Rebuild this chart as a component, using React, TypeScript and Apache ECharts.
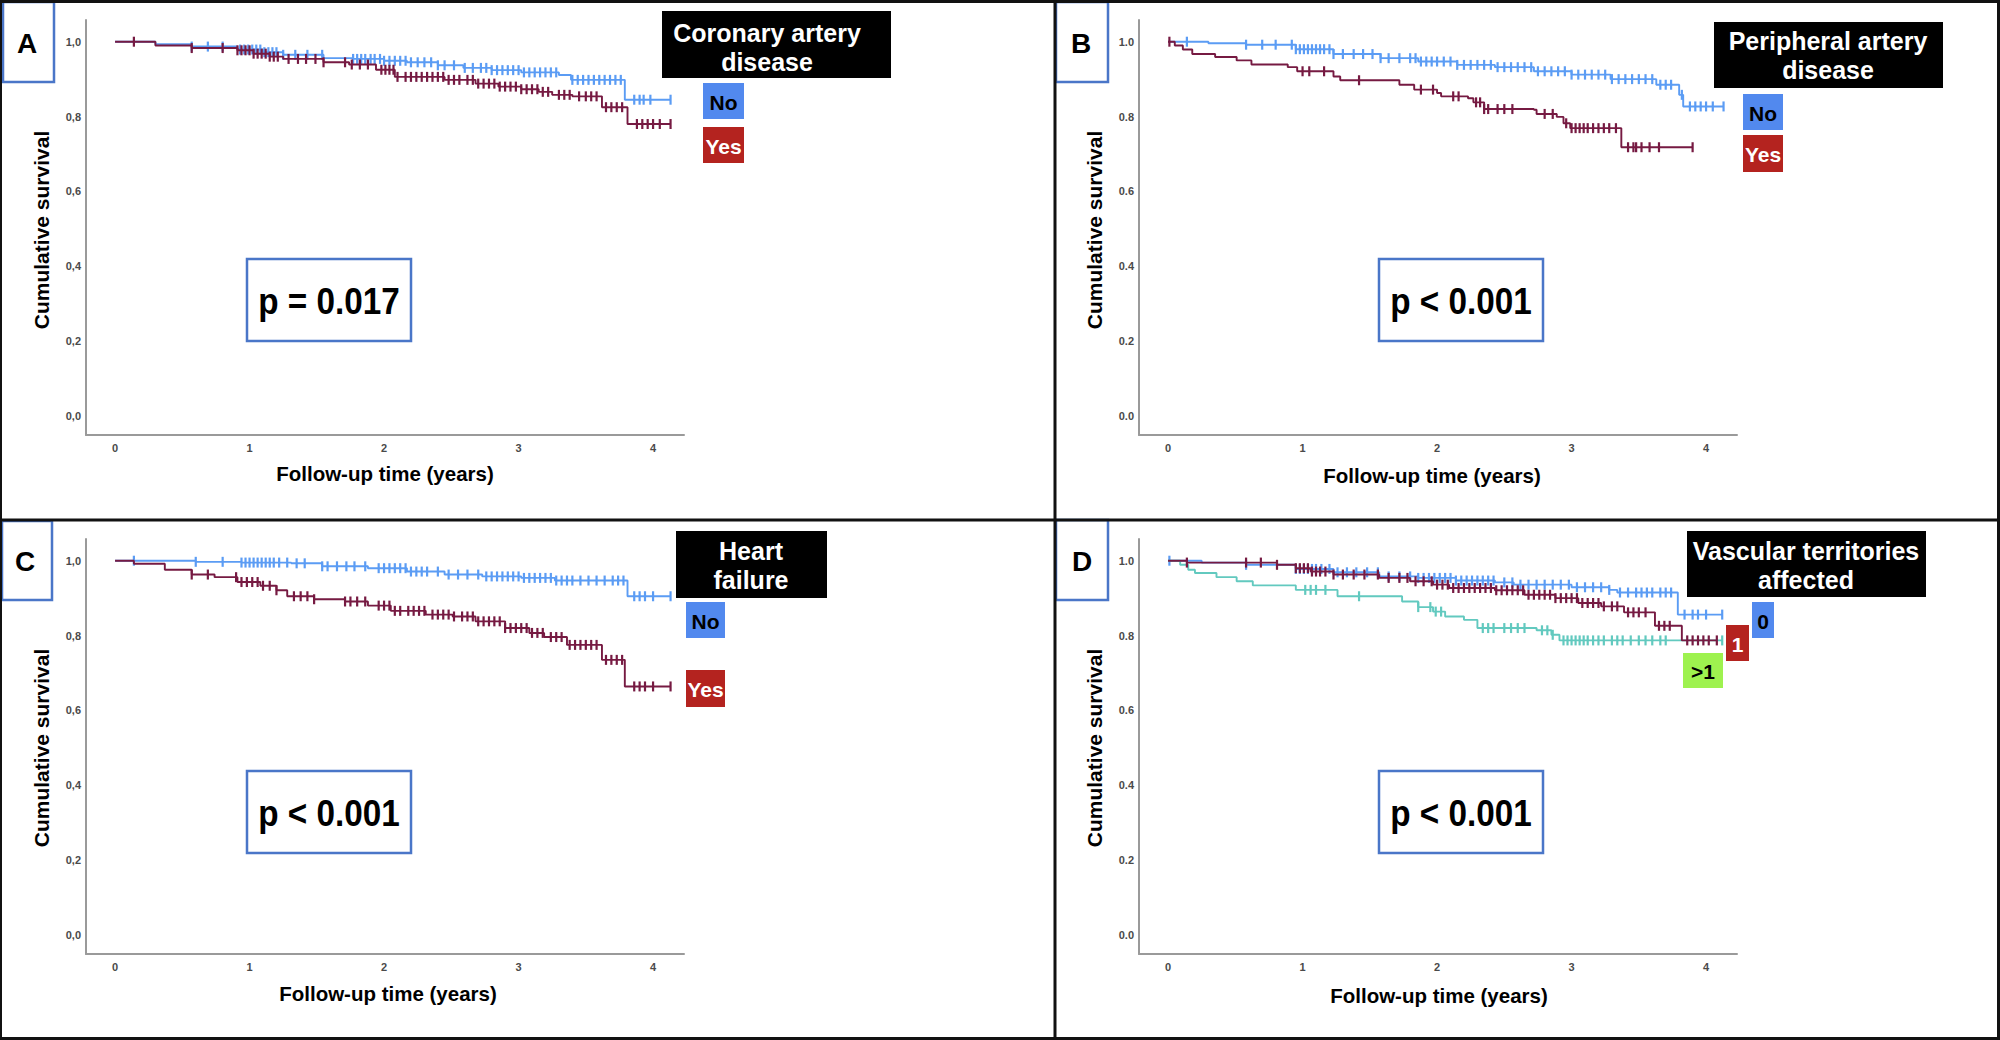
import React, { useEffect, useRef } from "react";
import * as echarts from "echarts";

// ---------- tick labels ----------
const xTicks = [0, 1, 2, 3, 4];
const yTicks = [0, 0.2, 0.4, 0.6, 0.8, 1.0];

// ---------- Panel A: Coronary artery disease ----------
const cadNoSteps = [[0,1],[0.3,0.993],[0.57,0.987],[0.91,0.979],[1.1,0.972],[1.25,0.965],[1.55,0.956],[1.77,0.954],[2.0,0.949],[2.17,0.945],[2.4,0.937],[2.59,0.93],[2.8,0.924],[3.02,0.918],[3.3,0.911],[3.39,0.898],[3.79,0.845],[4.13,0.845]];
const cadNoCensors = [0.57,0.69,0.8,0.93,0.96,0.99,1.02,1.05,1.08,1.11,1.14,1.17,1.2,1.25,1.34,1.43,1.54,1.77,1.8,1.83,1.86,1.9,1.93,1.97,2.0,2.04,2.08,2.12,2.16,2.2,2.25,2.3,2.35,2.4,2.45,2.52,2.6,2.66,2.72,2.76,2.8,2.84,2.88,2.92,2.96,3.0,3.04,3.08,3.12,3.16,3.2,3.24,3.28,3.4,3.44,3.48,3.52,3.56,3.6,3.64,3.68,3.72,3.76,3.86,3.9,3.93,3.98,4.13];
const cadYesSteps = [[0,1],[0.3,0.99],[0.57,0.983],[0.91,0.977],[1.03,0.968],[1.15,0.96],[1.25,0.954],[1.55,0.945],[1.74,0.939],[1.94,0.925],[2.08,0.906],[2.45,0.898],[2.68,0.888],[2.85,0.88],[3.02,0.873],[3.15,0.866],[3.25,0.858],[3.4,0.854],[3.62,0.825],[3.81,0.78],[4.13,0.78]];
const cadYesCensors = [0.14,0.57,0.8,0.91,0.94,0.97,1.0,1.03,1.06,1.09,1.12,1.15,1.18,1.21,1.29,1.36,1.42,1.49,1.55,1.71,1.76,1.82,1.88,1.98,2.01,2.04,2.07,2.1,2.16,2.2,2.24,2.28,2.32,2.36,2.4,2.44,2.48,2.52,2.56,2.62,2.66,2.7,2.74,2.78,2.82,2.86,2.9,2.94,2.98,3.02,3.06,3.1,3.14,3.18,3.22,3.3,3.34,3.38,3.45,3.5,3.54,3.58,3.65,3.69,3.73,3.77,3.88,3.92,3.96,4.0,4.05,4.13];

// ---------- Panel B: Peripheral artery disease ----------
const padNoSteps = [[0,1],[0.3,0.996],[0.58,0.992],[0.95,0.98],[1.23,0.967],[1.58,0.956],[1.86,0.947],[2.15,0.938],[2.43,0.932],[2.72,0.921],[3.0,0.912],[3.29,0.9],[3.63,0.885],[3.8,0.858],[3.83,0.827],[4.13,0.827]];
const padNoCensors = [0.14,0.58,0.7,0.8,0.92,0.95,0.98,1.01,1.04,1.07,1.1,1.13,1.16,1.2,1.23,1.3,1.38,1.45,1.52,1.58,1.64,1.72,1.8,1.84,1.88,1.92,1.96,2.0,2.05,2.1,2.15,2.2,2.25,2.3,2.35,2.4,2.45,2.5,2.55,2.6,2.65,2.7,2.75,2.8,2.85,2.9,2.95,3.0,3.05,3.1,3.15,3.2,3.25,3.3,3.35,3.4,3.45,3.5,3.55,3.6,3.66,3.7,3.74,3.82,3.88,3.92,3.96,4.0,4.05,4.13];
const padYesSteps = [[0,1],[0.05,0.99],[0.11,0.979],[0.18,0.967],[0.35,0.959],[0.51,0.95],[0.62,0.939],[0.89,0.932],[0.96,0.921],[1.23,0.907],[1.28,0.897],[1.72,0.885],[1.83,0.872],[2.0,0.863],[2.03,0.854],[2.23,0.849],[2.27,0.838],[2.35,0.82],[2.72,0.818],[2.74,0.807],[2.89,0.799],[2.94,0.782],[2.99,0.769],[3.37,0.718],[3.9,0.718]];
const padYesCensors = [0.01,1.0,1.05,1.16,1.42,1.88,1.97,2.12,2.16,2.29,2.32,2.35,2.38,2.45,2.5,2.56,2.8,2.86,2.96,3.0,3.03,3.06,3.09,3.12,3.16,3.2,3.24,3.28,3.33,3.42,3.46,3.48,3.52,3.58,3.65,3.9];

// ---------- Panel C: Heart failure ----------
const hfNoSteps = [[0,1],[0.6,0.997],[0.94,0.995],[1.31,0.993],[1.54,0.985],[1.88,0.98],[2.17,0.971],[2.45,0.963],[2.73,0.958],[3.02,0.954],[3.27,0.947],[3.81,0.905],[4.13,0.905]];
const hfNoCensors = [0.14,0.6,0.8,0.94,0.97,1.0,1.03,1.06,1.09,1.12,1.15,1.18,1.22,1.28,1.35,1.41,1.54,1.58,1.65,1.72,1.78,1.86,1.96,2.0,2.04,2.08,2.12,2.16,2.2,2.24,2.28,2.32,2.4,2.48,2.55,2.62,2.7,2.76,2.8,2.84,2.88,2.92,2.96,3.0,3.04,3.08,3.12,3.16,3.2,3.24,3.28,3.32,3.36,3.4,3.46,3.52,3.58,3.64,3.7,3.74,3.78,3.86,3.9,3.94,4.0,4.13];
const hfYesSteps = [[0,1],[0.14,0.992],[0.37,0.976],[0.57,0.963],[0.74,0.956],[0.91,0.943],[1.08,0.933],[1.2,0.921],[1.28,0.905],[1.48,0.897],[1.71,0.891],[1.88,0.88],[2.05,0.866],[2.31,0.856],[2.51,0.851],[2.68,0.838],[2.9,0.82],[3.08,0.807],[3.19,0.796],[3.36,0.775],[3.62,0.735],[3.79,0.664],[4.13,0.664]];
const hfYesCensors = [0.57,0.69,0.9,0.94,0.98,1.02,1.06,1.1,1.15,1.2,1.33,1.38,1.43,1.48,1.71,1.75,1.8,1.86,1.96,2.0,2.04,2.08,2.12,2.18,2.22,2.26,2.3,2.36,2.4,2.44,2.48,2.52,2.58,2.62,2.66,2.7,2.74,2.78,2.82,2.86,2.9,2.94,2.98,3.02,3.06,3.1,3.14,3.18,3.24,3.28,3.32,3.38,3.42,3.46,3.5,3.54,3.58,3.65,3.69,3.73,3.77,3.86,3.9,3.94,4.0,4.13];

// ---------- Panel D: Vascular territories affected ----------
const vt0Steps = [[0,1],[0.25,0.995],[0.58,0.989],[0.95,0.978],[1.23,0.969],[1.57,0.958],[1.86,0.954],[2.14,0.947],[2.43,0.942],[2.57,0.936],[3.0,0.929],[3.28,0.922],[3.34,0.915],[3.79,0.856],[4.12,0.856]];
const vt0Censors = [0.01,0.58,0.95,0.98,1.01,1.04,1.07,1.1,1.14,1.2,1.26,1.33,1.4,1.48,1.56,1.64,1.72,1.8,1.86,1.9,1.94,1.98,2.02,2.06,2.1,2.14,2.18,2.22,2.26,2.3,2.34,2.38,2.42,2.5,2.56,2.62,2.68,2.74,2.8,2.86,2.92,2.98,3.04,3.1,3.16,3.22,3.28,3.36,3.42,3.48,3.52,3.56,3.6,3.66,3.7,3.74,3.84,3.9,3.94,4.0,4.12];
const vt1Steps = [[0,1],[0.14,0.995],[0.81,0.989],[0.95,0.98],[1.06,0.971],[1.23,0.963],[1.57,0.954],[1.8,0.945],[1.97,0.936],[2.09,0.927],[2.43,0.921],[2.65,0.909],[2.88,0.9],[3.05,0.887],[3.22,0.878],[3.39,0.862],[3.62,0.826],[3.82,0.787],[4.08,0.787]];
const vt1Censors = [0.14,0.58,0.69,0.81,0.95,0.98,1.01,1.04,1.07,1.1,1.13,1.17,1.23,1.3,1.38,1.46,1.56,1.64,1.72,1.78,1.84,1.9,1.96,2.0,2.04,2.08,2.12,2.16,2.2,2.24,2.28,2.32,2.36,2.4,2.44,2.48,2.52,2.56,2.6,2.64,2.68,2.72,2.76,2.8,2.84,2.88,2.92,2.96,3.0,3.04,3.08,3.12,3.16,3.2,3.24,3.3,3.34,3.42,3.46,3.5,3.55,3.65,3.69,3.73,3.86,3.9,3.94,3.98,4.02,4.08];
const vtGt1Steps = [[0,1],[0.09,0.989],[0.15,0.976],[0.2,0.967],[0.36,0.956],[0.51,0.945],[0.63,0.934],[0.95,0.922],[1.26,0.905],[1.74,0.891],[1.86,0.876],[1.97,0.864],[2.06,0.851],[2.2,0.842],[2.3,0.82],[2.74,0.814],[2.85,0.802],[2.91,0.787],[4.12,0.787]];
const vtGt1Censors = [1.02,1.06,1.1,1.17,1.42,1.86,1.95,1.99,2.03,2.34,2.38,2.42,2.5,2.55,2.6,2.65,2.78,2.82,2.86,2.94,2.97,3.0,3.03,3.06,3.09,3.12,3.16,3.2,3.24,3.3,3.34,3.38,3.44,3.5,3.55,3.6,3.66,3.7,4.12];

// ---------- texts ----------
const panelLetters = ["A", "B", "C", "D"];
const legendTitles = [["Coronary artery", "disease"], ["Peripheral artery", "disease"], ["Heart", "failure"], ["Vascular territories", "affected"]];
const pValues = ["p = 0.017", "p < 0.001", "p < 0.001", "p < 0.001"];
const xTitle = "Follow-up time (years)";
const yTitle = "Cumulative survival";

// ---------- styles ----------
const FONT = "'Liberation Sans', Arial, Helvetica, sans-serif";
const C_BLUE = "#5b9cf4";
const C_RED = "#761a42";
const C_TEAL = "#62c9bf";
const BOX_BLUE = "#5289ee";
const BOX_RED = "#b4231f";
const BOX_GREEN = "#9ef24f";
const FRAME_BLUE = "#4a76c8";

const X_MIN = -0.216, X_MAX = 4.23, Y_MIN = -0.051, Y_MAX = 1.058;

function survivalAt(steps: number[][], t: number) {
  let s = steps[0][1];
  for (const [st, sv] of steps) {
    if (st <= t) s = sv; else break;
  }
  return s;
}

type Curve = { name: string; steps: number[][]; censors: number[]; color: string };

const panels: { grid: any; comma: boolean; curves: Curve[] }[] = [
  { grid: { left: 86, top: 20, width: 598, height: 415 }, comma: true, curves: [
    { name: "No", steps: cadNoSteps, censors: cadNoCensors, color: C_BLUE },
    { name: "Yes", steps: cadYesSteps, censors: cadYesCensors, color: C_RED } ] },
  { grid: { left: 1139, top: 20, width: 598, height: 415 }, comma: false, curves: [
    { name: "No", steps: padNoSteps, censors: padNoCensors, color: C_BLUE },
    { name: "Yes", steps: padYesSteps, censors: padYesCensors, color: C_RED } ] },
  { grid: { left: 86, top: 539, width: 598, height: 415 }, comma: true, curves: [
    { name: "No", steps: hfNoSteps, censors: hfNoCensors, color: C_BLUE },
    { name: "Yes", steps: hfYesSteps, censors: hfYesCensors, color: C_RED } ] },
  { grid: { left: 1139, top: 539, width: 598, height: 415 }, comma: false, curves: [
    { name: "0", steps: vt0Steps, censors: vt0Censors, color: C_BLUE },
    { name: ">1", steps: vtGt1Steps, censors: vtGt1Censors, color: C_TEAL },
    { name: "1", steps: vt1Steps, censors: vt1Censors, color: C_RED } ] },
];

function txt(x: number, y: number, text: string, size: number, color: string, opts: any = {}) {
  return {
    type: "text", x, y, z: 100,
    rotation: opts.rot || 0,
    scaleX: opts.sx || 1,
    style: {
      text, fill: color, fontSize: size, fontWeight: opts.weight || "bold", fontFamily: FONT,
      align: "center", verticalAlign: "middle", textAlign: "center", textVerticalAlign: "middle",
    },
  };
}
function box(x1: number, y1: number, x2: number, y2: number, fill: string, stroke?: string, lw = 0) {
  return {
    type: "rect", z: 90,
    shape: { x: x1, y: y1, width: x2 - x1, height: y2 - y1 },
    style: { fill, stroke: stroke || null, lineWidth: lw },
  };
}
function ln(x1: number, y1: number, x2: number, y2: number, w: number) {
  return { type: "line", z: 110, shape: { x1, y1, x2, y2 }, style: { stroke: "#111", lineWidth: w } };
}

export default function App() {
  const ref = useRef<HTMLDivElement>(null);
  useEffect(() => {
    if (!ref.current) return;
    const chart = echarts.init(ref.current, undefined, { renderer: "svg" });

    const grid: any[] = [], xAxis: any[] = [], yAxis: any[] = [], series: any[] = [];
    panels.forEach((p, i) => {
      grid.push({ ...p.grid, containLabel: false });
      xAxis.push({
        type: "value", gridIndex: i, min: X_MIN, max: X_MAX,
        axisLine: { show: true, onZero: false, lineStyle: { color: "#9a9a9a", width: 2 } },
        axisTick: { show: false }, splitLine: { show: false },
        axisLabel: { customValues: xTicks, margin: 7, fontSize: 11, color: "#4a4a4a", fontFamily: FONT, fontWeight: "bold", formatter: (v: number) => String(Math.round(v)) },
      });
      yAxis.push({
        type: "value", gridIndex: i, min: Y_MIN, max: Y_MAX,
        axisLine: { show: true, onZero: false, lineStyle: { color: "#9a9a9a", width: 2 } },
        axisTick: { show: false }, splitLine: { show: false },
        axisLabel: { customValues: yTicks, margin: 5, fontSize: 11, color: "#4a4a4a", fontFamily: FONT, fontWeight: "bold",
          formatter: (v: number) => { const s = v.toFixed(1); return p.comma ? s.replace(".", ",") : s; } },
      });
      p.curves.forEach((c, k) => {
        series.push({
          type: "line", name: c.name, xAxisIndex: i, yAxisIndex: i, step: "end",
          data: c.steps, showSymbol: false, symbol: "none", z: 3 + k,
          lineStyle: { color: c.color, width: 1.9 }, itemStyle: { color: c.color },
          silent: true,
        });
        series.push({
          type: "scatter", name: c.name + " censored", xAxisIndex: i, yAxisIndex: i,
          data: c.censors.map((t) => [t, survivalAt(c.steps, t)]),
          symbol: "rect", symbolSize: [2.2, 10], z: 3 + k,
          itemStyle: { color: c.color, opacity: 1 }, silent: true,
        });
      });
    });

    const g: any[] = [];
    // panel letter boxes
    const letterBoxes = [[3, 2, 54, 82], [1056, 2, 1108, 82], [2, 521, 52, 600], [1056, 520, 1108, 600]];
    const letterPos = [[27, 43], [1081, 43], [25, 561], [1082, 561]];
    letterBoxes.forEach((b, i) => {
      g.push(box(b[0], b[1], b[2], b[3], "#ffffff", FRAME_BLUE, 2.5));
      g.push(txt(letterPos[i][0], letterPos[i][1], panelLetters[i], 28, "#000"));
    });
    // axis titles
    const xTitlePos = [[385, 473], [1432, 475], [388, 993], [1439, 995]];
    const yTitlePos = [[41, 230], [1094, 230], [41, 748], [1094, 748]];
    for (let i = 0; i < 4; i++) {
      g.push(txt(xTitlePos[i][0], xTitlePos[i][1], xTitle, 20.5, "#000"));
      g.push(txt(yTitlePos[i][0], yTitlePos[i][1], yTitle, 21, "#000", { rot: Math.PI / 2 }));
    }
    // p-value boxes
    const pBoxes = [[247, 259, 411, 341], [1379, 259, 1543, 341], [247, 771, 411, 853], [1379, 771, 1543, 853]];
    pBoxes.forEach((b, i) => {
      g.push(box(b[0], b[1], b[2], b[3], "#ffffff", FRAME_BLUE, 2.5));
      g.push(txt((b[0] + b[2]) / 2, (b[1] + b[3]) / 2 + 1, pValues[i], 37, "#000", { sx: 0.9 }));
    });
    // legend title boxes
    const lBoxes = [[662, 11, 891, 78], [1714, 22, 1943, 88], [676, 531, 827, 598], [1687, 531, 1926, 597]];
    const lLines = [[767, 33, 62], [1828, 41, 70], [751, 551, 580], [1806, 551, 580]];
    lBoxes.forEach((b, i) => {
      g.push(box(b[0], b[1], b[2], b[3], "#000000"));
      g.push(txt(lLines[i][0], lLines[i][1], legendTitles[i][0], 25, "#fff"));
      g.push(txt(lLines[i][0], lLines[i][2], legendTitles[i][1], 25, "#fff"));
    });
    // group keys
    const keys = [
      [703, 83, 744, 119, BOX_BLUE, "#000", "No"], [703, 127, 744, 163, BOX_RED, "#fff", "Yes"],
      [1743, 94, 1783, 130, BOX_BLUE, "#000", "No"], [1743, 135, 1783, 172, BOX_RED, "#fff", "Yes"],
      [686, 602, 725, 638, BOX_BLUE, "#000", "No"], [686, 670, 725, 707, BOX_RED, "#fff", "Yes"],
      [1752, 602, 1774, 638, BOX_BLUE, "#000", "0"], [1726, 625, 1749, 661, BOX_RED, "#fff", "1"],
      [1683, 653, 1723, 688, BOX_GREEN, "#000", ">1"],
    ] as any[];
    keys.forEach((k) => {
      g.push(box(k[0], k[1], k[2], k[3], k[4]));
      g.push(txt((k[0] + k[2]) / 2, (k[1] + k[3]) / 2 + 1, k[6], 21, k[5]));
    });
    // frame and dividers
    g.push(ln(0, 1.5, 2000, 1.5, 3));
    g.push(ln(0, 1038.5, 2000, 1038.5, 3));
    g.push(ln(1, 0, 1, 1040, 2));
    g.push(ln(1998.5, 0, 1998.5, 1040, 3));
    g.push(ln(1055, 0, 1055, 1040, 3));
    g.push(ln(0, 520, 2000, 520, 3));

    chart.setOption({
      animation: false,
      backgroundColor: "#ffffff",
      grid, xAxis, yAxis, series,
      graphic: { elements: g },
    });
    return () => chart.dispose();
  }, []);
  return <div ref={ref} style={{ position: "fixed", left: 0, top: 0, width: 2000, height: 1040, background: "#fff" }} />;
}
